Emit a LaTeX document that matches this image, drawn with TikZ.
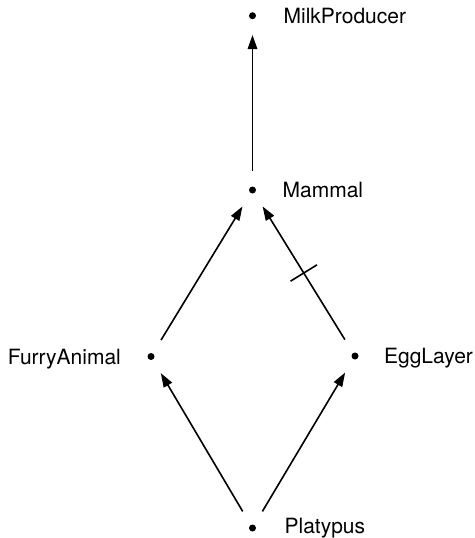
\documentclass[tikz,border=0pt]{standalone}
\usepackage{fontspec}
\setmainfont{TeX Gyre Heros}
\usetikzlibrary{arrows.meta,positioning,decorations.markings}

\tikzset{every picture/.style={line width=1.6pt}}
\tikzset{
  dot/.style={circle,fill,inner sep=0pt,minimum size=7pt},
  lbl/.style={inner sep=0pt,text height=15pt,text depth=0pt,font=\fontsize{21}{25}\selectfont},
  isa/.style={-{Triangle[length=14pt,width=9.5pt]},shorten <=15pt,shorten >=15pt},
  crossed/.style={postaction={decorate,decoration={markings,
      mark=at position 0.5 with {\draw[-,shorten <=0pt,shorten >=0pt] (0,-15.5pt) -- (0,15.5pt);}}}}
}

\begin{document}
\begin{tikzpicture}[x=1pt,y=-1pt]
        \useasboundingbox (0,0) rectangle (474,538);
        % the hierarchy
        \node[dot] (milk) at (252.5,15.7) {};
        \node[dot] (mammal) at (252.5,190) {};
        \node[dot] (furry) at (151,356.5) {};
        \node[dot] (egg) at (355,356) {};
        \node[dot] (platypus) at (252.5,528) {};
        \node[lbl,right=26pt of milk] (milklbl) {MilkProducer};
        \node[lbl,right=25pt of mammal] (mammallbl) {Mammal};
        \node[lbl,left=25pt of furry] (furrylbl) {FurryAnimal};
        \node[lbl,right=24pt of egg] (egglbl) {EggLayer};
        \node[lbl,right=27pt of platypus,yshift=2.5pt] (platypuslbl) {Platypus};
        % links
        \draw[isa] (mammal) -- (milk);
        \draw[isa] (furry) -- (mammal);
        \draw[isa,crossed] (egg) -- (mammal);
        \draw[isa] (platypus) -- (furry);
        \draw[isa] (platypus) -- (egg);
    \end{tikzpicture}
\end{document}
